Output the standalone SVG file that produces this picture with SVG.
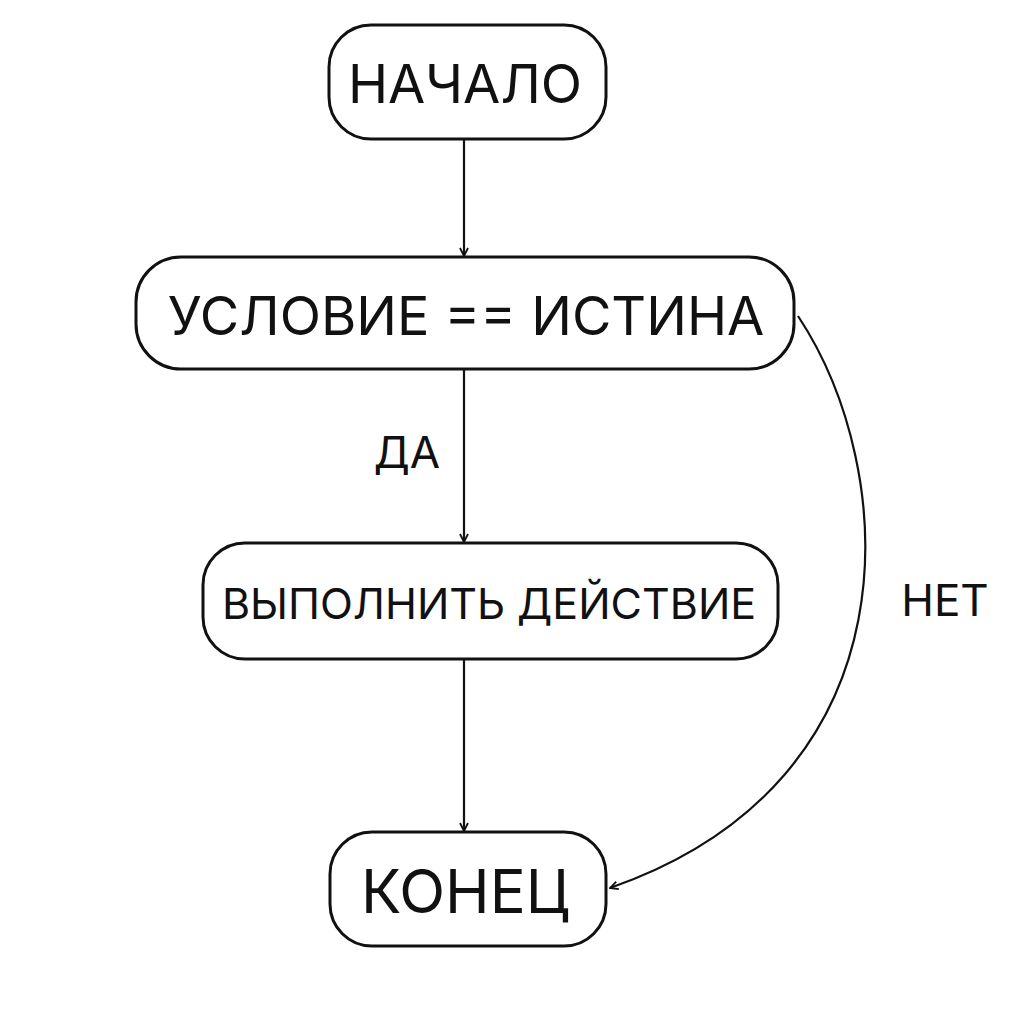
<svg xmlns="http://www.w3.org/2000/svg" width="1030" height="1024" viewBox="0 0 1030 1024">
<style>
.n{fill:#fff;stroke:#111;stroke-width:3}
.t{font-family:Inter,"Noto Sans",sans-serif;font-weight:400;fill:#111;text-anchor:middle;dominant-baseline:central}
.c{fill:none;stroke:#111;stroke-width:2.2;marker-end:url(#a)}
</style>
<defs><marker id="a" viewBox="0 0 10 10" refX="9" refY="5" markerWidth="10" markerHeight="10" orient="auto" markerUnits="userSpaceOnUse"><path d="M1,1 L9,5 L1,9" fill="none" stroke="#111" stroke-width="1.8"/></marker></defs>
<rect width="1030" height="1024" fill="#fff"/>
<g id="connectors">
<path class="c" d="M464,140 V256"/>
<path class="c" d="M464,370 V542"/>
<path class="c" d="M464,660 V831"/>
<path class="c" d="M798,316 C900,470 920,780 610,888"/>
<text class="t" x="407" y="452" font-size="44">ДА</text>
<text class="t" x="945" y="600" font-size="44">НЕТ</text>
</g>
<g id="start"><rect class="n" x="329" y="25" width="277" height="114" rx="42"/><text class="t" x="465" y="83" font-size="54">НАЧАЛО</text></g>
<g id="cond"><rect class="n" x="136" y="257" width="658" height="112" rx="45"/><text class="t" x="466" y="315" font-size="54">УСЛОВИЕ == ИСТИНА</text></g>
<g id="action"><rect class="n" x="203" y="543" width="575" height="116" rx="42"/><text class="t" x="489" y="603" font-size="43">ВЫПОЛНИТЬ ДЕЙСТВИЕ</text></g>
<g id="end"><rect class="n" x="330" y="832" width="276" height="114" rx="42"/><text class="t" x="465" y="891" font-size="60">КОНЕЦ</text></g>
</svg>
